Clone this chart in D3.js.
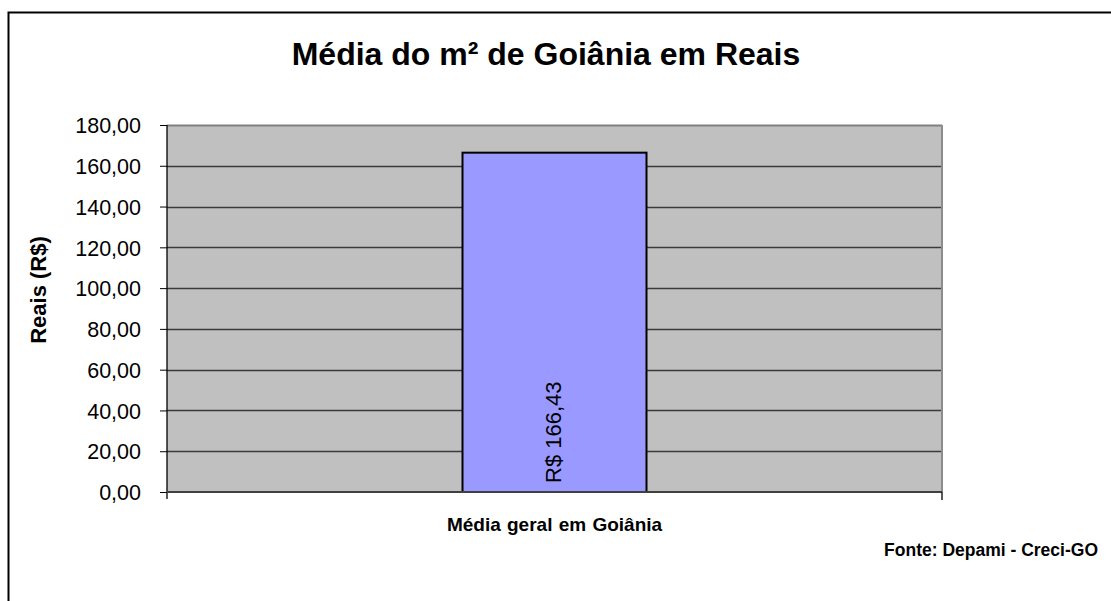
<!DOCTYPE html>
<html>
<head>
<meta charset="utf-8">
<script src="https://cdn.jsdelivr.net/npm/d3@7"></script>
<style>
  html, body { margin: 0; padding: 0; background: #fff; }
  svg { display: block; font-family: "Liberation Sans", Arial, sans-serif; }
</style>
</head>
<body>
<svg id="chart" width="1111" height="601"></svg>
<script>
const categories = ["Média geral em Goiânia"];
const values = [166.43];
const yTicks = [0, 20, 40, 60, 80, 100, 120, 140, 160, 180];
const title = "Média do m² de Goiânia em Reais";
const yTitle = "Reais (R$)";
const source = "Fonte: Depami - Creci-GO";

const svg = d3.select("#chart");
const W = 1111, H = 601;
const plot = { left: 167, top: 125, right: 942, bottom: 492 };

// outer border (top & left visible, runs off the right/bottom)
svg.append("rect").attr("x", 8.5).attr("y", 12.5).attr("width", W + 10).attr("height", H + 10)
  .attr("fill", "#fff").attr("stroke", "#000").attr("stroke-width", 2);

const x = d3.scaleBand().domain(categories).range([plot.left, plot.right]).paddingInner(0).paddingOuter(0);
const y = d3.scaleLinear().domain([0, 180]).range([plot.bottom, plot.top]);

// plot background
svg.append("rect").attr("x", plot.left).attr("y", plot.top)
  .attr("width", plot.right - plot.left).attr("height", plot.bottom - plot.top)
  .attr("fill", "#c0c0c0");

// gridlines
svg.append("g").selectAll("line").data(yTicks.filter(d => d > 0)).join("line")
  .attr("x1", plot.left).attr("x2", plot.right)
  .attr("y1", d => Math.round(y(d)) + 0.5).attr("y2", d => Math.round(y(d)) + 0.5)
  .attr("stroke", d => d === 180 ? "#808080" : "#3a3a3a").attr("stroke-width", d => d === 180 ? 2 : 1.4);

// right border of plot
svg.append("line").attr("x1", plot.right).attr("x2", plot.right)
  .attr("y1", plot.top).attr("y2", plot.bottom).attr("stroke", "#8c8c8c").attr("stroke-width", 2);

// bar
const barW = 184;
svg.append("g").selectAll("rect").data(values).join("rect")
  .attr("x", (d, i) => x(categories[i]) + x.bandwidth() / 2 - barW / 2)
  .attr("y", d => y(d))
  .attr("width", barW)
  .attr("height", d => y(0) - y(d))
  .attr("fill", "#9999ff").attr("stroke", "#000").attr("stroke-width", 2);

// bar labels (rotated)
svg.append("g").selectAll("text").data(values).join("text")
  .attr("transform", (d, i) => `translate(${x(categories[i]) + x.bandwidth() / 2 - 1},${y(0) - 9}) rotate(-90)`)
  .attr("text-anchor", "start").attr("dominant-baseline", "central")
  .attr("font-size", 22).attr("fill", "#000")
  .text(d => "R$ " + d3.format(".2f")(d).replace(".", ","));

// y axis
const yAxis = d3.axisLeft(y).tickValues(yTicks).tickSize(7).tickPadding(19)
  .tickFormat(d => d3.format(".2f")(d).replace(".", ","));
const gy = svg.append("g").attr("transform", `translate(${plot.left},0)`).call(yAxis);
gy.select(".domain").remove();
gy.selectAll(".tick line").attr("stroke", "#000").attr("stroke-width", 1);
gy.selectAll(".tick text").attr("font-size", 21.5).attr("fill", "#000")
  .attr("font-family", "'Liberation Sans', Arial, sans-serif").attr("dy", "0.36em");
svg.append("line").attr("x1", plot.left).attr("x2", plot.left)
  .attr("y1", plot.top).attr("y2", plot.bottom + 7).attr("stroke", "#000").attr("stroke-width", 1.3);

// x axis
svg.append("line").attr("x1", plot.left).attr("x2", plot.right)
  .attr("y1", plot.bottom).attr("y2", plot.bottom).attr("stroke", "#404040").attr("stroke-width", 2);
svg.append("line").attr("x1", plot.right).attr("x2", plot.right)
  .attr("y1", plot.bottom).attr("y2", plot.bottom + 8).attr("stroke", "#000").attr("stroke-width", 1.3);

svg.append("g").selectAll("text").data(categories).join("text")
  .attr("x", d => x(d) + x.bandwidth() / 2).attr("y", 531)
  .attr("text-anchor", "middle").attr("font-size", 19).attr("font-weight", "bold")
  .attr("word-spacing", 1)
  .text(d => d);

// title
svg.append("text").attr("x", 546).attr("y", 65).attr("text-anchor", "middle")
  .attr("font-size", 32).attr("font-weight", "bold").text(title);

// y axis title
svg.append("text").attr("transform", `translate(46,290) rotate(-90)`)
  .attr("text-anchor", "middle").attr("font-size", 22).attr("font-weight", "bold").text(yTitle);

// source
svg.append("text").attr("x", 1098).attr("y", 556).attr("text-anchor", "end")
  .attr("font-size", 17.5).attr("font-weight", "bold").text(source);
</script>
</body>
</html>
